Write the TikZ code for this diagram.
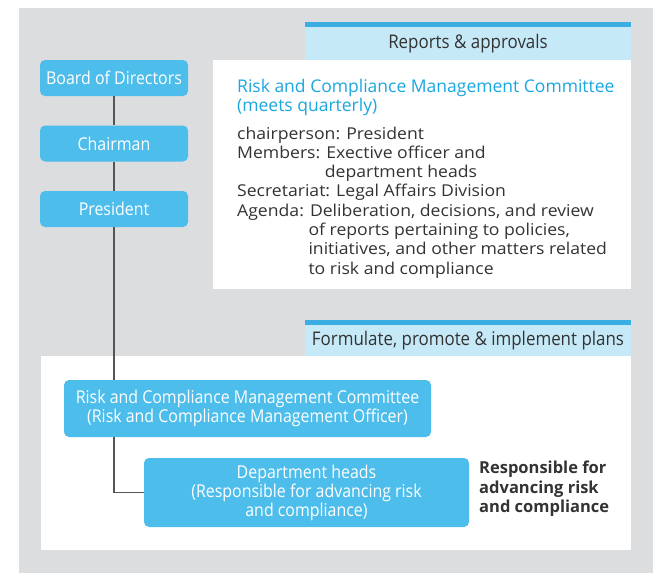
\documentclass[tikz,border=0pt]{standalone}
\usepackage{fontspec}
\setmainfont{Open Sans}
\newfontfamily\condfont[FakeStretch=0.9]{Open Sans}
\newfontfamily\widefont[FakeStretch=1.08]{Open Sans}
\definecolor{bggray}{HTML}{DCDDDF}
\definecolor{hdrblue}{HTML}{C6E9F8}
\definecolor{linblue}{HTML}{3AAEE3}
\definecolor{nodeblue}{HTML}{4DBDEB}
\definecolor{titleblue}{HTML}{1AA7E0}
\definecolor{txtgray}{HTML}{333333}
\definecolor{conngray}{HTML}{555555}
\tikzset{
  orgbox/.style={draw=none, fill=nodeblue, rounded corners=5pt, text=white,
    font=\condfont\fontsize{17.7}{19}\selectfont, align=center, inner sep=0pt},
  hdrtext/.style={text=txtgray, font=\condfont\fontsize{18.8}{19}\selectfont, inner sep=0pt},
  conn/.style={draw=conngray, line width=1.6pt}
}
\begin{document}
\begin{tikzpicture}[x=1pt,y=-1pt]
\useasboundingbox (0,0) rectangle (669,573);
\fill[bggray] (19,8) rectangle (653,573);
% top panel
\fill[hdrblue] (305,22) rectangle (631,60);
\fill[linblue] (305,22) rectangle (631,27);
\fill[white] (213,60) rectangle (631,289);
\node[hdrtext] (hdr1) at (468,44) {Reports \& approvals};
\node[anchor=north west, inner sep=0pt, text=titleblue, align=left,
  font=\fontsize{17.5}{17}\selectfont] (title) at (237,79.5)
  {Risk and Compliance Management Committee\\(meets quarterly)};
\node[anchor=north west, inner sep=0pt, text=txtgray, align=left,
  font=\widefont\fontsize{16.3}{19.3}\selectfont] (body) at (237,126.5)
  {chairperson: President\\
   Members: Exective officer and\\
   \hphantom{Members:\ }department heads\\
   Secretariat: Legal Affairs Division\\
   Agenda: Deliberation, decisions, and review\\
   \hphantom{Agenda:\ }of reports pertaining to policies,\\
   \hphantom{Agenda:\ }initiatives, and other matters related\\
   \hphantom{Agenda:\ }to risk and compliance};
% bottom panel
\fill[hdrblue] (305,320) rectangle (631,356);
\fill[linblue] (305,320) rectangle (631,325);
\fill[white] (41,356) rectangle (631,550);
\node[hdrtext] (hdr2) at (468,341) {Formulate, promote \& implement plans};
% org nodes
\node[orgbox, minimum width=148pt, minimum height=36pt] (board) at (114,78) {Board of Directors};
\node[orgbox, minimum width=148pt, minimum height=36pt] (chair) at (114,143.5) {Chairman};
\node[orgbox, minimum width=148pt, minimum height=36pt] (pres) at (114,209) {President};
\node[orgbox, minimum width=367pt, minimum height=57pt] (rcmc) at (247.5,408.5)
  {Risk and Compliance Management Committee\\(Risk and Compliance Management Officer)};
\node[orgbox, minimum width=325pt, minimum height=69pt] (dept) at (306.5,492.5)
  {Department heads\\(Responsible for advancing risk\\and compliance)};
\node[anchor=north west, inner sep=0pt, text=txtgray, align=left,
  font=\bfseries\fontsize{16.5}{19.5}\selectfont] (resp) at (479,461)
  {Responsible for\\advancing risk\\and compliance};
% connectors
\draw[conn] (board.south) -- (chair.north);
\draw[conn] (chair.south) -- (pres.north);
\draw[conn] (pres.south) -- (pres.south |- rcmc.north);
\draw[conn] (rcmc.south -| pres.south) |- (dept.west);
\end{tikzpicture}
\end{document}
